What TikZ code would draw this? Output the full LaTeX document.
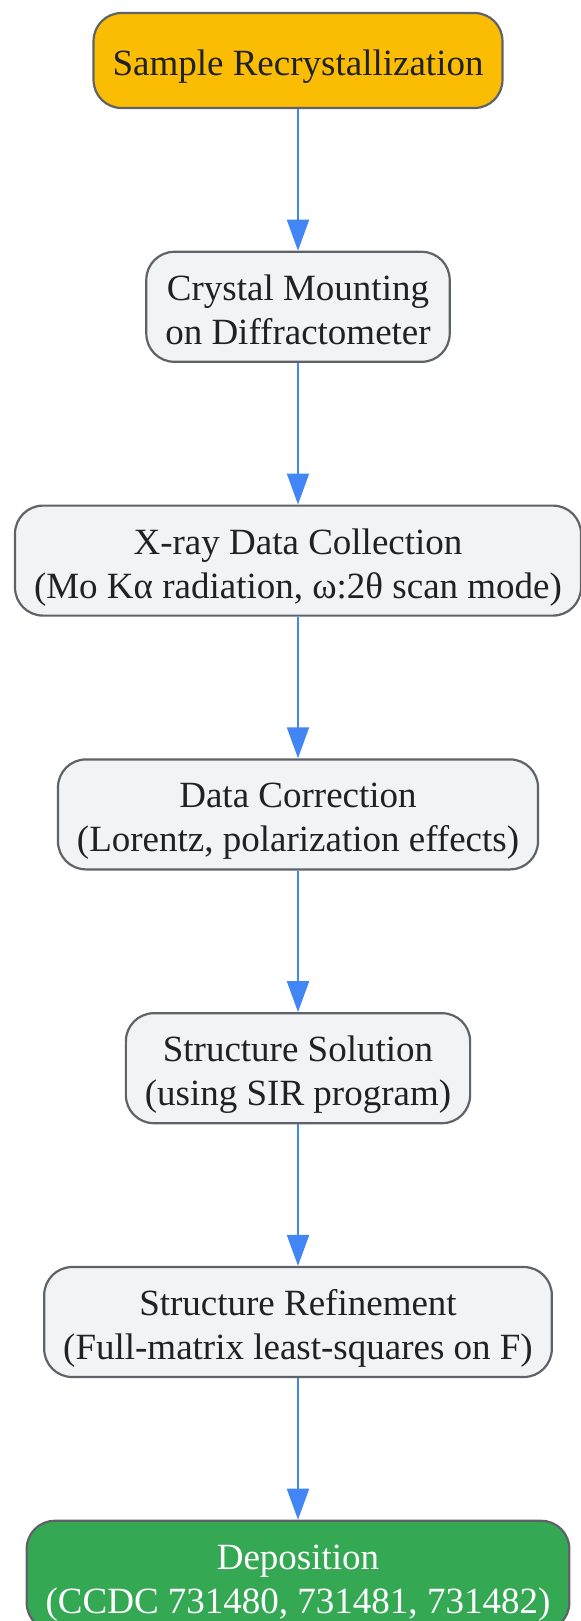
\documentclass[tikz,border=0pt]{standalone}
\usepackage{fontspec}
\setmainfont{Liberation Serif}
\usepackage{tikz}
\usetikzlibrary{positioning,arrows.meta}

\definecolor{boxedge}{HTML}{5F6368}
\definecolor{boxfill}{HTML}{F1F3F4}
\definecolor{startfill}{HTML}{FBBC04}
\definecolor{endfill}{HTML}{34A853}
\definecolor{ink}{HTML}{202124}
\definecolor{flowblue}{HTML}{4285F4}

\begin{document}
\begin{tikzpicture}[
                node distance=70.8pt,
                every node/.append style={rectangle,rounded corners=14pt,draw=boxedge,line width=1.1pt,
                    fill=boxfill,text=ink,align=center,inner xsep=9.5pt,inner ysep=3pt,
                    minimum height=55pt,text height=41.5pt,text depth=4pt,
                    font=\fontsize{18.5}{22}\selectfont},
                startbox/.style={fill=startfill,minimum height=47.5pt,text height=19.5pt},
                endbox/.style={fill=endfill,text=white},
                flow/.style={draw=flowblue,line width=1pt,-{Triangle[length=15.5pt,width=11pt]}}
            ]
                \useasboundingbox (0,0) rectangle (290.5pt,-810.5pt);
                \node (A) [startbox] at (149pt,-30.25pt) {Sample Recrystallization};
                \node (B) [below=of A] {Crystal Mounting\\on Diffractometer};
                \node (C) [below=of B] {X-ray Data Collection\\(Mo Kα radiation, ω:2θ scan mode)};
                \node (D) [below=of C] {Data Correction\\(Lorentz, polarization effects)};
                \node (E) [below=of D] {Structure Solution\\(using SIR program)};
                \node (F) [below=of E] {Structure Refinement\\(Full-matrix least-squares on F)};
                \node (G) [endbox,below=of F] {Deposition\\(CCDC 731480, 731481, 731482)};
                \draw[flow] (A) -- (B);
                \draw[flow] (B) -- (C);
                \draw[flow] (C) -- (D);
                \draw[flow] (D) -- (E);
                \draw[flow] (E) -- (F);
                \draw[flow] (F) -- (G);
            \end{tikzpicture}
\end{document}
